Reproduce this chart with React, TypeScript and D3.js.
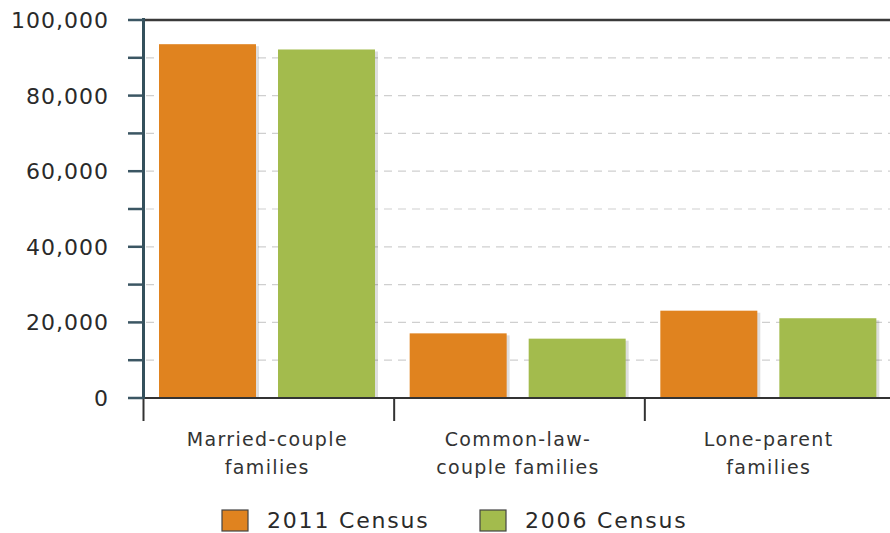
import React from "react";
import * as d3 from "d3";

const categories: string[][] = [
  ["Married-couple", "families"],
  ["Common-law-", "couple families"],
  ["Lone-parent", "families"],
];
const categoryKeys = ["married", "commonlaw", "lone"];
const seriesNames = ["2011 Census", "2006 Census"];
const census2011 = [93600, 17100, 23100];
const census2006 = [92200, 15700, 21100];
const yTicks = [0, 20000, 40000, 60000, 80000, 100000];
const yMinorTicks = [0, 10000, 20000, 30000, 40000, 50000, 60000, 70000, 80000, 90000, 100000];

const colors = ["#e0831f", "#a3bb4d"];
const W = 890;
const H = 533;

export default function App() {
  const x0 = d3.scaleBand<string>().domain(categoryKeys).range([143, 895]).padding(0);
  const x1 = d3
    .scaleBand<string>()
    .domain(seriesNames)
    .range([16, 232])
    .paddingInner(0.185)
    .paddingOuter(0);
  const y = d3.scaleLinear().domain([0, 100000]).range([398, 20]);
  const fmt = d3.format(",");
  const series = [census2011, census2006];
  const font = "'DejaVu Sans', Verdana, sans-serif";

  return (
    <svg
      width={W}
      height={H}
      style={{ position: "absolute", left: 0, top: 0, background: "#fff" }}
      fontFamily={font}
    >
      <rect x={0} y={0} width={W} height={H} fill="#fff" />
      {/* gridlines */}
      {yMinorTicks
        .filter((t) => t > 0 && t < 100000)
        .map((t) => (
          <line
            key={"g" + t}
            x1={146}
            x2={W}
            y1={y(t)}
            y2={y(t)}
            stroke="#cfcfcf"
            strokeWidth={1.2}
            strokeDasharray="8,6"
          />
        ))}
      {/* top border */}
      <line x1={143} x2={W} y1={y(100000)} y2={y(100000)} stroke="#3a3a3a" strokeWidth={2.5} />
      {/* bars */}
      {categoryKeys.map((c, i) => (
        <g key={c} transform={`translate(${x0(c)},0)`}>
          {seriesNames.map((s, j) => (
            <g key={s}>
              <rect
                x={(x1(s) as number) + 3}
                y={y(series[j][i]) + 2}
                width={x1.bandwidth()}
                height={y(0) - y(series[j][i]) - 2}
                fill="#000"
                opacity={0.13}
              />
              <rect
                x={x1(s)}
                y={y(series[j][i])}
                width={x1.bandwidth()}
                height={y(0) - y(series[j][i])}
                fill={colors[j]}
              />
            </g>
          ))}
        </g>
      ))}
      {/* x axis */}
      <line x1={143} x2={W} y1={y(0)} y2={y(0)} stroke="#333" strokeWidth={2} />
      {categoryKeys.map((c) => (
        <line
          key={"t" + c}
          x1={(x0(c) as number) + 0.5}
          x2={(x0(c) as number) + 0.5}
          y1={y(0)}
          y2={421}
          stroke="#333"
          strokeWidth={2}
        />
      ))}
      {/* y axis */}
      <line x1={143.5} x2={143.5} y1={18} y2={399} stroke="#34505c" strokeWidth={3} />
      {yMinorTicks.map((t) => (
        <line
          key={"yt" + t}
          x1={128}
          x2={143}
          y1={y(t)}
          y2={y(t)}
          stroke="#3b5663"
          strokeWidth={2.5}
        />
      ))}
      {yTicks.map((t) => (
        <text
          key={"yl" + t}
          x={109}
          y={y(t)}
          dy="0.36em"
          textAnchor="end"
          fontSize={22}
          letterSpacing={1}
          fill="#2a2a2a"
        >
          {fmt(t)}
        </text>
      ))}
      {/* category labels */}
      {categoryKeys.map((c, i) => {
        const cx = (x0(c) as number) + x0.bandwidth() / 2 - 1;
        return (
          <text
            key={"cl" + c}
            x={cx}
            y={446}
            textAnchor="middle"
            fontSize={19}
            letterSpacing={1.35}
            fill="#333"
          >
            {categories[i].map((line, k) => (
              <tspan key={k} x={cx} dy={k === 0 ? 0 : 28}>
                {line}
              </tspan>
            ))}
          </text>
        );
      })}
      {/* legend */}
      {seriesNames.map((s, j) => {
        const lx = j === 0 ? 222 : 480;
        return (
          <g key={"lg" + s}>
            <rect x={lx} y={510} width={26} height={21} fill={colors[j]} stroke="#444" strokeWidth={1.2} />
            <text x={lx + 45} y={528} fontSize={22} letterSpacing={1.8} fill="#2a2a2a">
              {s}
            </text>
          </g>
        );
      })}
    </svg>
  );
}
